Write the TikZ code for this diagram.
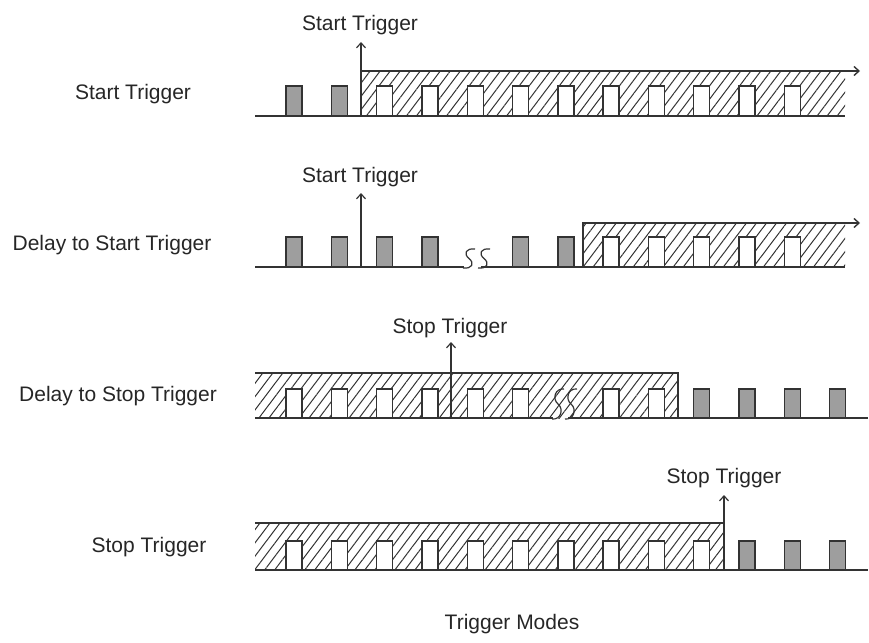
\documentclass[tikz,border=0pt]{standalone}
\usepackage{fontspec}
\setmainfont{Liberation Sans}
\usetikzlibrary{arrows.meta,patterns.meta}
% S-shaped break mark: #1 = centre x, #2 = top y, #3 = bottom y
\newcommand\mysquig[3]{%
  \pgfmathsetmacro\sqm{(#2+#3)/2}%
  \draw[ln, line width=1.2pt] ({#1+6},#2) .. controls ({#1-3},{#2-1}) and ({#1-6},{\sqm-5}) .. (#1,\sqm)
     .. controls ({#1+6},{\sqm+5}) and ({#1+3},{#3+1}) .. ({#1-6},#3);}
\begin{document}
\begin{tikzpicture}[x=1pt,y=-1pt,
  ln/.style={line width=1.4pt, draw=black!80},
  hatch/.style={pattern={Lines[angle=53,distance=8pt,line width=1pt]}, pattern color=black!80},
  pulse/.style={fill=black!38, draw=black!80, line width=1.4pt},
  tip/.style={-{Straight Barb[length=5pt,width=9pt]}},
  trig/.style={ln, line width=1.2pt, tip},
  lbl/.style={font=\fontsize{21}{25}\selectfont, text=black!85, inner sep=0pt}
]
\useasboundingbox (0,0) rectangle (869,642);

% ---------- Row 1: Start Trigger ----------
\node[lbl] (l1) at (133,94) {Start Trigger};
\fill[hatch] (361,71) rectangle (845,116);
\foreach \k in {2,...,11} \fill[white] ({286+45.3*\k},86) rectangle ++(16,30);
\draw[ln] (255,116) -- (845,116);
\foreach \k in {2,...,11} \draw[ln] ({286+45.3*\k},116) -- ++(0,-30) -- ++(16,0) -- ++(0,30);
\foreach \k in {0,1} \filldraw[pulse] ({286+45.3*\k},116) rectangle ++(16,-30);
\coordinate (h1s) at (361,71); \coordinate (h1e) at (860,71);
\draw[ln,tip] (h1s) -- (h1e);
\coordinate (a1) at (361,116); \coordinate (a1t) at (361,42);
\draw[trig] (a1) -- (a1t);
\node[lbl] (t1) at (360,25) {Start Trigger};

% ---------- Row 2: Delay to Start Trigger ----------
\node[lbl] (l2) at (112,245) {Delay to Start Trigger};
\fill[hatch] (583,223) rectangle (845,267);
\foreach \k in {7,...,11} \fill[white] ({286+45.3*\k},237) rectangle ++(16,30);
\draw[ln] (255,267) -- (464,267);
\draw[ln] (481,267) -- (845,267);
\mysquig{469}{249}{268}
\mysquig{484}{249}{268}
\foreach \k in {7,...,11} \draw[ln] ({286+45.3*\k},267) -- ++(0,-30) -- ++(16,0) -- ++(0,30);
\foreach \k in {0,1,2,3,5,6} \filldraw[pulse] ({286+45.3*\k},267) rectangle ++(16,-30);
\coordinate (h2b) at (583,267); \coordinate (h2s) at (583,223); \coordinate (h2e) at (860,223);
\draw[ln,tip] (h2b) -- (h2s) -- (h2e);
\coordinate (a2) at (361,267); \coordinate (a2t) at (361,193);
\draw[trig] (a2) -- (a2t);
\node[lbl] (t2) at (360,177) {Start Trigger};

% ---------- Row 3: Delay to Stop Trigger ----------
\node[lbl] (l3) at (118,396) {Delay to Stop Trigger};
\fill[hatch] (255,373) rectangle (678,418);
\foreach \k in {0,...,5,7,8} \fill[white] ({286+45.3*\k},389) rectangle ++(16,29);
\draw[ln] (255,418) -- (553,418);
\draw[ln] (568,418) -- (868,418);
\mysquig{558}{389}{419}
\mysquig{571}{389}{419}
\foreach \k in {0,...,5,7,8} \draw[ln] ({286+45.3*\k},418) -- ++(0,-29) -- ++(16,0) -- ++(0,29);
\foreach \k in {9,...,12} \filldraw[pulse] ({286+45.3*\k},418) rectangle ++(16,-29);
\draw[ln] (255,373) -- (678,373) -- (678,418);
\coordinate (a3) at (451,418); \coordinate (a3t) at (451,342);
\draw[trig] (a3) -- (a3t);
\node[lbl] (t3) at (450,328) {Stop Trigger};

% ---------- Row 4: Stop Trigger ----------
\node[lbl] (l4) at (149,547) {Stop Trigger};
\fill[hatch] (255,523) rectangle (724,570);
\foreach \k in {0,...,9} \fill[white] ({286+45.3*\k},541) rectangle ++(16,29);
\draw[ln] (255,570) -- (868,570);
\foreach \k in {0,...,9} \draw[ln] ({286+45.3*\k},570) -- ++(0,-29) -- ++(16,0) -- ++(0,29);
\foreach \k in {10,11,12} \filldraw[pulse] ({286+45.3*\k},570) rectangle ++(16,-29);
\draw[ln] (255,523) -- (724,523);
\coordinate (a4) at (724,570); \coordinate (a4t) at (724,495);
\draw[trig] (a4) -- (a4t);
\node[lbl] (t4) at (724,478) {Stop Trigger};

% ---------- Title ----------
\node[lbl] (title) at (512,624) {Trigger Modes};
\end{tikzpicture}
\end{document}
